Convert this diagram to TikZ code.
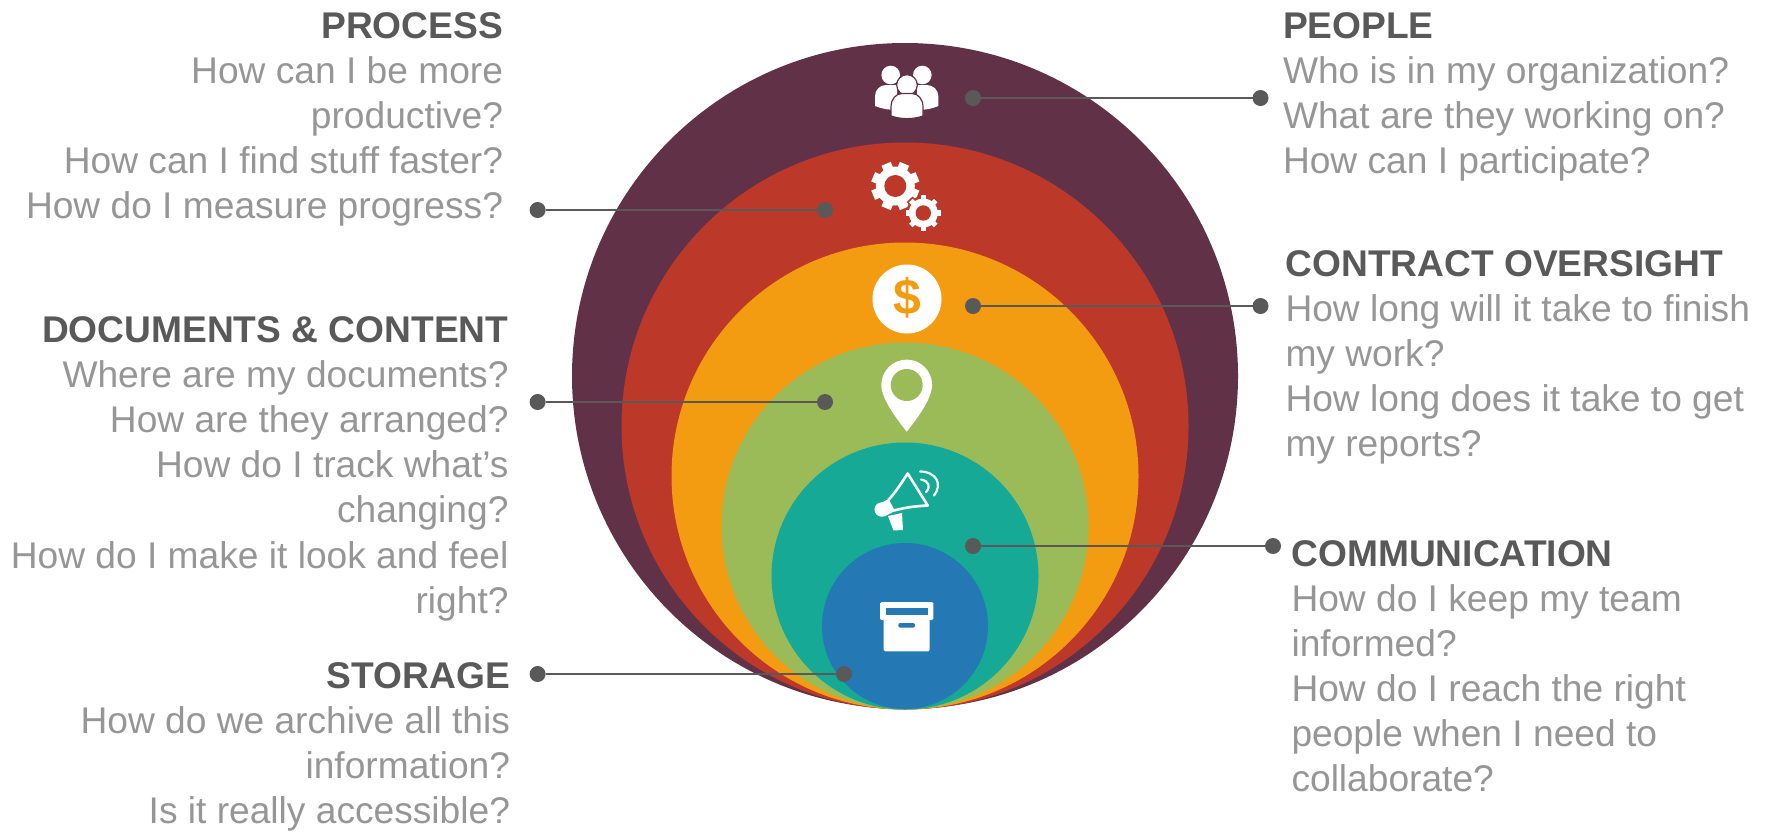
\documentclass[tikz,border=0pt]{standalone}
\usepackage{fontspec}
\setmainfont{Liberation Sans}
\definecolor{cMaroon}{HTML}{613247}
\definecolor{cRed}{HTML}{BC3829}
\definecolor{cOrange}{HTML}{F39C12}
\definecolor{cGreen}{HTML}{9BBB59}
\definecolor{cTeal}{HTML}{16A995}
\definecolor{cBlue}{HTML}{2479B5}
\definecolor{cHead}{HTML}{595959}
\definecolor{cBody}{HTML}{969696}
\newcommand{\hd}[1]{\rule{0pt}{30pt}{\color{cHead}\bfseries #1}}
\tikzset{
  txtbase/.style={inner sep=0pt,outer sep=0pt,text=cBody,font=\fontsize{37.15pt}{45.1pt}\selectfont},
  txtl/.style={txtbase,anchor=north west,align=left},
  txtr/.style={txtbase,anchor=north east,align=right},
  dot/.style={circle,fill=cHead,inner sep=0pt,outer sep=0pt,minimum size=16pt},
  conn/.style={draw=cHead,line width=2.9pt},
  ring/.style={circle,inner sep=0pt,outer sep=0pt}
}
\begin{document}
\begin{tikzpicture}[x=1pt,y=-1pt]
\useasboundingbox (0,0) rectangle (1771,831);
% rings
\node[ring,fill=cMaroon,minimum size=666pt] (r1) at (905,376) {};
\node[ring,fill=cRed,minimum size=567pt] (r2) at (905,426) {};
\node[ring,fill=cOrange,minimum size=467pt] (r3) at (905,476) {};
\node[ring,fill=cGreen,minimum size=367pt] (r4) at (905,526) {};
\node[ring,fill=cTeal,minimum size=267pt] (r5) at (905,576) {};
\node[ring,fill=cBlue,minimum size=166pt] (r6) at (905,626) {};
% people icon
\fill[white] (890.7,75) circle[radius=9.3];
\fill[white] (922.3,75) circle[radius=9.3];
\fill[white] (875,106) -- (875,96) .. controls (875,90) and (880,85) .. (886,85) -- (897,85) -- (897,110) .. controls (890,110) and (882,109) .. (875,106) -- cycle;
\fill[white] (938.3,106) -- (938.3,96) .. controls (938.3,90) and (933,85) .. (927,85) -- (917,85) -- (917,110) .. controls (924,110) and (932,109) .. (938.3,106) -- cycle;
\draw[cMaroon,fill=white,line width=1.2pt] (907,85) circle[radius=10.3];
\draw[cMaroon,fill=white,line width=1.2pt] (891,116) -- (891,107) .. controls (891,99) and (896,93.5) .. (902,93.5) -- (912,93.5) .. controls (918,93.5) and (923,99) .. (923,107) -- (923,116) .. controls (913,119.5) and (901,119.5) .. (891,116) -- cycle;
% gears
\begin{scope}[shift={(895.3,186)}]
  \foreach \a in {22.5,67.5,...,337.5} {\fill[white,rotate=\a] (-5,-24) rectangle (5,0);}
  \fill[white] (0,0) circle[radius=19.5];
  \fill[cRed] (0,0) circle[radius=11];
\end{scope}
\begin{scope}[shift={(923.3,213)}]
  \fill[cRed] (0,0) circle[radius=17];
  \foreach \a in {0,45,...,315} {\draw[cRed,line width=1.4pt,fill=white,rotate=\a] (-3.4,-18.5) rectangle (3.4,0);}
  \fill[white] (0,0) circle[radius=14.5];
  \fill[cRed] (0,0) circle[radius=7.7];
\end{scope}
% dollar icon
\node[circle,fill=white,inner sep=0pt,minimum size=69pt] (coin) at (907,299) {};
\node[inner sep=0pt,text=cOrange,font=\fontsize{50pt}{50pt}\selectfont\bfseries] (dollar) at (907,298) {\$};
% pin icon
\fill[white] (881.3,385) arc[start angle=180,end angle=360,radius=25.4] .. controls (932.1,400) and (913.5,423) .. (906.7,431.7) .. controls (900,423) and (881.3,400) .. (881.3,385) -- cycle;
\fill[cGreen] (906.7,385) circle[radius=16];
% megaphone icon
\draw[white,line width=2.6pt,line join=round,fill=cTeal] (888.3,500) .. controls (896,492) and (902,482) .. (907.7,473.5) -- (927.7,505.5) .. controls (915,506) and (903,508) .. (894,510.5);
\fill[white] (881.7,509.5) circle[radius=7.2];
\fill[white] (881,503) -- (888.5,499) -- (895,511) -- (884,516.5) -- cycle;
\fill[white] (888,516) -- (902,513) -- (903,530) -- (893.5,530.5) -- cycle;
\draw[white,line width=2.2pt,line cap=round] (921,479.5) .. controls (929,481) and (931,487) .. (926,492);
\draw[white,line width=2.2pt,line cap=round] (920,471.5) .. controls (936,471.5) and (943,484) .. (934,495.5);
% box icon
\fill[white,rounded corners=1.5pt] (880,602) rectangle (933.3,620);
\fill[white,rounded corners=1.5pt] (883.7,615) rectangle (929.7,651.3);
\fill[cBlue] (885.7,608) rectangle (927.7,615);
\fill[cBlue,rounded corners=2pt] (898.3,623) rectangle (915,627.7);
% dots
\node[dot] (pA) at (973,98) {};
\node[dot] (pB) at (1260.5,98) {};
\node[dot] (cA) at (973,306) {};
\node[dot] (cB) at (1260.5,306) {};
\node[dot] (mA) at (973,546) {};
\node[dot] (mB) at (1273,546) {};
\node[dot] (prA) at (825,210) {};
\node[dot] (prB) at (537.6,210) {};
\node[dot] (dA) at (825,402) {};
\node[dot] (dB) at (537.6,402) {};
\node[dot] (sA) at (844,674) {};
\node[dot] (sB) at (537.6,674) {};
\draw[conn] (pA) -- (pB);
\draw[conn] (cA) -- (cB);
\draw[conn] (mA) -- (mB);
\draw[conn] (prA) -- (prB);
\draw[conn] (dA) -- (dB);
\draw[conn] (sA) -- (sB);
% texts
\node[txtr] (tProcess) at (503,8) {\hd{PROCESS}\\How can I be more\\productive?\\How can I find stuff faster?\\How do I measure progress?};
\node[txtr] (tDocs) at (508.5,312.5) {\hd{DOCUMENTS \& CONTENT}\\Where are my documents?\\How are they arranged?\\How do I track what’s\\changing?\\How do I make it look and feel\\right?};
\node[txtr] (tStorage) at (510,658.5) {\hd{STORAGE}\\How do we archive all this\\information?\\Is it really accessible?};
\node[txtl] (tPeople) at (1283,8.5) {\hd{PEOPLE}\\Who is in my organization?\\What are they working on?\\How can I participate?};
\node[txtl] (tContract) at (1285.5,246) {\hd{CONTRACT OVERSIGHT}\\How long will it take to finish\\my work?\\How long does it take to get\\my reports?};
\node[txtl] (tComm) at (1291.5,536) {\hd{COMMUNICATION}\\How do I keep my team\\informed?\\How do I reach the right\\people when I need to\\collaborate?};
\end{tikzpicture}
\end{document}
